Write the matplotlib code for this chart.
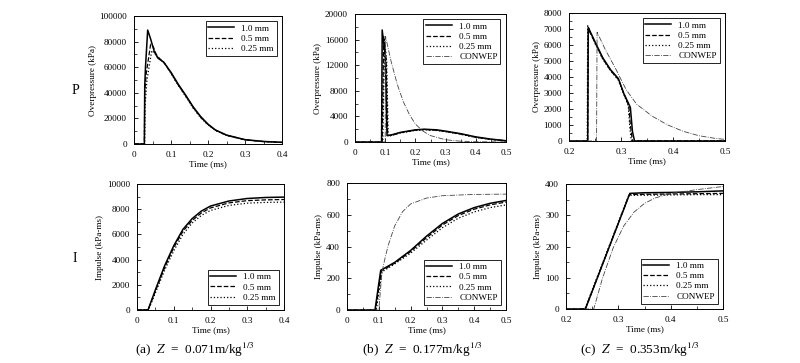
import numpy as np
import matplotlib
matplotlib.use("Agg")
import matplotlib.pyplot as plt
from matplotlib.ticker import MultipleLocator

plt.rcParams['font.family'] = ['Liberation Serif', 'DejaVu Serif']
plt.rcParams['mathtext.fontset'] = 'stix'

labels = ['1.0 mm', '0.5 mm', '0.25 mm', 'CONWEP']
styles = ['-', '--', ':', '-.']
widths = [1.1, 0.9, 0.9, 0.6]
colors = ['black', 'black', 'black', '#444444']

# ---- (a) Z = 0.071, overpressure
pa_t10 = [0, 0.028, 0.029, 0.031, 0.037, 0.045, 0.055, 0.065, 0.08, 0.1, 0.12, 0.14, 0.16, 0.18, 0.2, 0.22, 0.25, 0.3, 0.35, 0.4]
pa_p10 = [0, 0, 45000, 60000, 89000, 82000, 72000, 67000, 64000, 56000, 46500, 38000, 29000, 21500, 15500, 11000, 7000, 3400, 2000, 1300]
pa_t05 = [0, 0.028, 0.029, 0.033, 0.045, 0.052, 0.06, 0.07, 0.08, 0.1, 0.12, 0.14, 0.16, 0.18, 0.2, 0.22, 0.25, 0.3, 0.35, 0.4]
pa_p05 = [0, 0, 40000, 55000, 78000, 76000, 70000, 66500, 64000, 55500, 46000, 37500, 28500, 21000, 15200, 10800, 6800, 3300, 1900, 1250]
pa_t025 = [0, 0.029, 0.030, 0.035, 0.048, 0.056, 0.065, 0.075, 0.085, 0.1, 0.12, 0.14, 0.16, 0.18, 0.2, 0.22, 0.25, 0.3, 0.35, 0.4]
pa_p025 = [0, 0, 30000, 50000, 73000, 71000, 67000, 65000, 62500, 55000, 45500, 37000, 28000, 20500, 15000, 10600, 6700, 3200, 1850, 1200]

# ---- (b) Z = 0.177, overpressure
pb_t10 = [0, 0.088, 0.09, 0.1, 0.106, 0.12, 0.15, 0.2, 0.23, 0.27, 0.3, 0.35, 0.4, 0.45, 0.5]
pb_p10 = [0, 0, 17500, 13500, 1000, 1100, 1500, 1900, 2000, 1900, 1700, 1300, 800, 450, 200]
pb_t05 = [0, 0.09, 0.095, 0.103, 0.108, 0.12, 0.15, 0.2, 0.23, 0.27, 0.3, 0.35, 0.4, 0.45, 0.5]
pb_p05 = [0, 0, 16500, 13000, 1000, 1050, 1450, 1850, 1950, 1850, 1650, 1250, 750, 420, 180]
pb_t025 = [0, 0.092, 0.098, 0.105, 0.11, 0.12, 0.15, 0.2, 0.23, 0.27, 0.3, 0.35, 0.4, 0.45, 0.5]
pb_p025 = [0, 0, 16000, 12500, 900, 1000, 1400, 1800, 1900, 1800, 1600, 1200, 700, 400, 150]
pb_tcw = [0, 0.1, 0.101, 0.12, 0.14, 0.16, 0.18, 0.2, 0.225, 0.25, 0.3, 0.35, 0.4, 0.5]
pb_pcw = [0, 0, 16500, 12500, 9000, 6300, 4300, 2800, 1700, 1000, 350, 120, 40, 0]

# ---- (c) Z = 0.353, overpressure
pc_t10 = [0.2, 0.236, 0.237, 0.25, 0.265, 0.28, 0.295, 0.305, 0.318, 0.322, 0.326, 0.35, 0.5]
pc_p10 = [0, 0, 7100, 6200, 5200, 4450, 3900, 3000, 2100, 600, 0, 0, 0]
pc_t05 = [0.2, 0.236, 0.237, 0.25, 0.265, 0.28, 0.295, 0.305, 0.315, 0.318, 0.322, 0.35, 0.5]
pc_p05 = [0, 0, 7000, 6150, 5150, 4400, 3850, 3000, 2200, 1000, 0, 0, 0]
pc_t025 = [0.2, 0.235, 0.236, 0.25, 0.265, 0.28, 0.295, 0.305, 0.314, 0.317, 0.32, 0.35, 0.5]
pc_p025 = [0, 0, 7200, 6100, 5100, 4400, 3800, 2950, 2200, 800, 0, 0, 0]
pc_tcw = [0.2, 0.253, 0.254, 0.27, 0.29, 0.31, 0.33, 0.36, 0.39, 0.42, 0.45, 0.48, 0.5]
pc_pcw = [0, 0, 6800, 5700, 4500, 3200, 2300, 1550, 1000, 600, 330, 170, 100]

# ---- (a) impulse
ia_t10 = [0, 0.03, 0.05, 0.075, 0.1, 0.125, 0.15, 0.175, 0.2, 0.25, 0.3, 0.35, 0.4]
ia_i10 = [0, 0, 1600, 3500, 5100, 6400, 7250, 7850, 8250, 8650, 8850, 8930, 8960]
ia_t05 = [0, 0.03, 0.05, 0.075, 0.1, 0.125, 0.15, 0.175, 0.2, 0.25, 0.3, 0.35, 0.4]
ia_i05 = [0, 0, 1500, 3350, 4950, 6250, 7100, 7700, 8100, 8500, 8680, 8740, 8770]
ia_t025 = [0, 0.031, 0.05, 0.075, 0.1, 0.125, 0.15, 0.175, 0.2, 0.25, 0.3, 0.35, 0.4]
ia_i025 = [0, 0, 1350, 3150, 4700, 6000, 6900, 7500, 7900, 8300, 8480, 8540, 8560]

# ---- (b) impulse
ib_t10 = [0, 0.088, 0.106, 0.15, 0.2, 0.25, 0.3, 0.35, 0.4, 0.45, 0.5]
ib_i10 = [0, 0, 250, 300, 375, 465, 545, 605, 645, 672, 690]
ib_t05 = [0, 0.09, 0.108, 0.15, 0.2, 0.25, 0.3, 0.35, 0.4, 0.45, 0.5]
ib_i05 = [0, 0, 245, 295, 368, 455, 535, 595, 635, 662, 680]
ib_t025 = [0, 0.092, 0.11, 0.15, 0.2, 0.25, 0.3, 0.35, 0.4, 0.45, 0.5]
ib_i025 = [0, 0, 240, 290, 358, 440, 518, 578, 618, 645, 662]
ib_tcw = [0, 0.1, 0.11, 0.12, 0.13, 0.15, 0.175, 0.2, 0.25, 0.3, 0.4, 0.5]
ib_icw = [0, 0, 240, 330, 410, 530, 620, 668, 705, 720, 728, 730]

# ---- (c) impulse
ic_t10 = [0.2, 0.237, 0.322, 0.35, 0.4, 0.45, 0.5]
ic_i10 = [0, 0, 370, 372, 373, 375, 378]
ic_t05 = [0.2, 0.237, 0.321, 0.35, 0.4, 0.45, 0.5]
ic_i05 = [0, 0, 366, 367, 368, 369, 370]
ic_t025 = [0.2, 0.236, 0.32, 0.35, 0.4, 0.45, 0.5]
ic_i025 = [0, 0, 364, 364, 365, 366, 366]
ic_tcw = [0.2, 0.253, 0.27, 0.29, 0.31, 0.33, 0.35, 0.37, 0.4, 0.45, 0.5]
ic_icw = [0, 0, 100, 195, 265, 310, 338, 355, 370, 382, 392]

captions = ['(a)  $Z$  =  0.071m/kg$^{1/3}$', '(b)  $Z$  =  0.177m/kg$^{1/3}$', '(c)  $Z$  =  0.353m/kg$^{1/3}$']

FS = 6.6
fig = plt.figure(figsize=(8, 3.63), dpi=100)


def panel(rect, series, xlim, xmaj, xmin, ylim, ymaj, ymin, ylabel, legloc):
    ax = fig.add_axes(rect)
    for k, (t, v) in enumerate(series):
        ax.plot(t, v, linestyle=styles[k], color=colors[k], lw=widths[k], label=labels[k])
    ax.set_xlim(*xlim)
    ax.set_ylim(*ylim)
    ax.xaxis.set_major_locator(MultipleLocator(xmaj))
    ax.xaxis.set_minor_locator(MultipleLocator(xmin))
    ax.yaxis.set_major_locator(MultipleLocator(ymaj))
    ax.yaxis.set_minor_locator(MultipleLocator(ymin))
    ax.tick_params(which='both', direction='in', labelsize=FS, pad=5)
    ax.tick_params(which='major', length=3, width=0.6)
    ax.tick_params(which='minor', length=2, width=0.5)
    ax.xaxis.set_major_formatter(plt.FuncFormatter(lambda v, p: ('%g' % round(v, 3))))
    for s in ax.spines.values():
        s.set_linewidth(0.7)
    ax.set_xlabel('Time (ms)', fontsize=FS, labelpad=1)
    ax.set_ylabel(ylabel, fontsize=FS, labelpad=2)
    leg = ax.legend(loc=legloc, fontsize=FS, fancybox=False, edgecolor='black',
                    framealpha=1, handlelength=2.8, borderpad=0.3, labelspacing=0.2,
                    handletextpad=0.8, borderaxespad=0.6)
    leg.get_frame().set_linewidth(0.6)
    return ax


H = 363.0
W = 800.0


def rect(l, r, top, bot):
    return [l / W, 1 - bot / H, (r - l) / W, (bot - top) / H]


panel(rect(134, 282, 16, 144),
      [(pa_t10, pa_p10), (pa_t05, pa_p05), (pa_t025, pa_p025)],
      (0, 0.4), 0.1, 0.05, (0, 100000), 20000, 10000, 'Overpressure (kPa)', 'upper right')
panel(rect(355, 506, 14, 142),
      [(pb_t10, pb_p10), (pb_t05, pb_p05), (pb_t025, pb_p025), (pb_tcw, pb_pcw)],
      (0, 0.5), 0.1, 0.05, (0, 20000), 4000, 2000, 'Overpressure (kPa)', 'upper right')
panel(rect(569, 725, 13, 141),
      [(pc_t10, pc_p10), (pc_t05, pc_p05), (pc_t025, pc_p025), (pc_tcw, pc_pcw)],
      (0.2, 0.5), 0.1, 0.05, (0, 8000), 1000, 500, 'Overpressure (kPa)', 'upper right')

panel(rect(137, 284, 184, 310),
      [(ia_t10, ia_i10), (ia_t05, ia_i05), (ia_t025, ia_i025)],
      (0, 0.4), 0.1, 0.05, (0, 10000), 2000, 1000, 'Impulse (kPa-ms)', 'lower right')
panel(rect(347, 506, 183, 310),
      [(ib_t10, ib_i10), (ib_t05, ib_i05), (ib_t025, ib_i025), (ib_tcw, ib_icw)],
      (0, 0.5), 0.1, 0.05, (0, 800), 200, 100, 'Impulse (kPa-ms)', 'lower right')
panel(rect(566, 723, 184, 309),
      [(ic_t10, ic_i10), (ic_t05, ic_i05), (ic_t025, ic_i025), (ic_tcw, ic_icw)],
      (0.2, 0.5), 0.1, 0.05, (0, 400), 100, 50, 'Impulse (kPa-ms)', 'lower right')

fig.text(75 / W, 1 - 90 / H, 'P', fontsize=10, ha='center', va='center')
fig.text(75 / W, 1 - 258 / H, 'I', fontsize=10, ha='center', va='center')
for x, c in zip([195, 422, 640], captions):
    fig.text(x / W, 1 - 350 / H, c, fontsize=9.5, ha='center', va='center')

fig.savefig('out.png', dpi=100)
